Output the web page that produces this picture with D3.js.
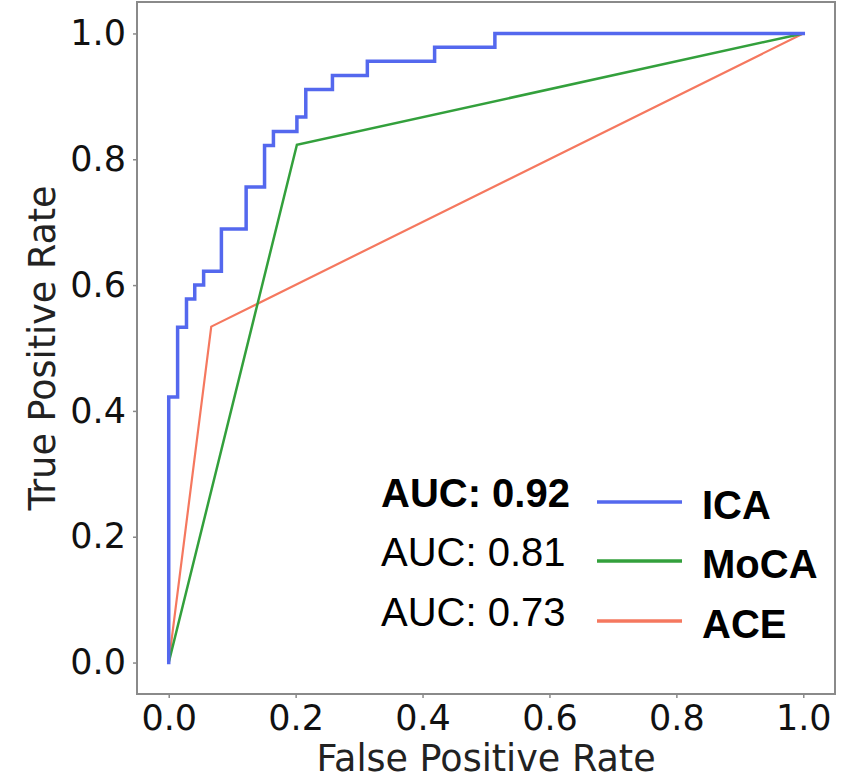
<!DOCTYPE html>
<html>
<head>
<meta charset="utf-8">
<script src="https://cdn.jsdelivr.net/npm/d3@7"></script>
<style>
  html, body { margin: 0; padding: 0; background: #fff; }
  svg { display: block; }
</style>
</head>
<body>
<svg id="chart" width="846" height="779"></svg>
<script>
// ROC curve points (false positive rate, true positive rate) per classifier
const icaFpr = [0, 0, 0.014, 0.014, 0.028, 0.028, 0.041, 0.041, 0.055, 0.055, 0.083, 0.083,
                0.122, 0.122, 0.151, 0.151, 0.165, 0.165, 0.202, 0.202, 0.216, 0.216,
                0.258, 0.258, 0.313, 0.313, 0.419, 0.419, 0.514, 0.514, 1];
const icaTpr = [0, 0.422, 0.422, 0.533, 0.533, 0.578, 0.578, 0.6, 0.6, 0.622, 0.622, 0.689,
                0.689, 0.756, 0.756, 0.822, 0.822, 0.844, 0.844, 0.867, 0.867, 0.911,
                0.911, 0.933, 0.933, 0.956, 0.956, 0.978, 0.978, 1, 1];
const mocaFpr = [0, 0.202, 1];
const mocaTpr = [0, 0.823, 1];
const aceFpr = [0, 0.067, 1];
const aceTpr = [0, 0.534, 1];

// Legend entries
const seriesNames = ["ICA", "MoCA", "ACE"];
const aucValues = [0.92, 0.81, 0.73];
const seriesColors = ["#5468ee", "#33a03c", "#f5785f"];
const seriesWidths = [3.5, 2.5, 2.2];

// Axis ticks
const tickValues = [0.0, 0.2, 0.4, 0.6, 0.8, 1.0];

const svg = d3.select("#chart");
const plotLeft = 137, plotRight = 835, plotTop = 2, plotBottom = 694;

const x = d3.scaleLinear().domain([-0.05, 1.05]).range([plotLeft, plotRight]);
const y = d3.scaleLinear().domain([-0.05, 1.05]).range([plotBottom, plotTop]);

const frameColor = "#8a8a8a";
const tickFont = "'DejaVu Sans', sans-serif";

// Curves
const curves = [
  { fpr: icaFpr, tpr: icaTpr },
  { fpr: mocaFpr, tpr: mocaTpr },
  { fpr: aceFpr, tpr: aceTpr }
];
const line = d3.line().x(d => x(d[0])).y(d => y(d[1]));

// draw ACE first, then MoCA, then ICA on top of the two
[2, 1, 0].forEach(i => {
  const pts = curves[i].fpr.map((f, k) => [f, curves[i].tpr[k]]);
  svg.append("path")
    .datum(pts)
    .attr("d", line)
    .attr("fill", "none")
    .attr("stroke", seriesColors[i])
    .attr("stroke-width", seriesWidths[i])
    .attr("stroke-linejoin", "miter")
    .attr("stroke-linecap", "square");
});

// Plot frame
svg.append("rect")
  .attr("x", plotLeft).attr("y", plotTop)
  .attr("width", plotRight - plotLeft).attr("height", plotBottom - plotTop)
  .attr("fill", "none")
  .attr("stroke", frameColor)
  .attr("stroke-width", 2);

// Axes
const xAxis = d3.axisBottom(x).tickValues(tickValues).tickFormat(d3.format(".1f"))
  .tickSize(4).tickPadding(7);
const yAxis = d3.axisLeft(y).tickValues(tickValues).tickFormat(d3.format(".1f"))
  .tickSize(4).tickPadding(7);

const gx = svg.append("g").attr("transform", `translate(0,${plotBottom})`).call(xAxis);
const gy = svg.append("g").attr("transform", `translate(${plotLeft},0)`).call(yAxis);

[gx, gy].forEach(g => {
  g.select(".domain").remove();
  g.selectAll(".tick line").attr("stroke", frameColor).attr("stroke-width", 1.5);
  g.selectAll(".tick text")
    .attr("fill", "#111")
    .style("font-family", tickFont)
    .style("font-size", "35px");
});

// Axis titles
svg.append("text")
  .attr("x", (plotLeft + plotRight) / 2)
  .attr("y", 771)
  .attr("text-anchor", "middle")
  .attr("fill", "#222")
  .style("font-family", tickFont)
  .style("font-size", "36.5px")
  .text("False Positive Rate");

svg.append("text")
  .attr("transform", `translate(55,${(plotTop + plotBottom) / 2}) rotate(-90)`)
  .attr("text-anchor", "middle")
  .attr("fill", "#222")
  .style("font-family", tickFont)
  .style("font-size", "36.5px")
  .text("True Positive Rate");

// Legend
const legendFont = "'Liberation Sans', Arial, sans-serif";
const legendRowBase = [507, 566, 626];
const legend = svg.append("g");
seriesNames.forEach((name, i) => {
  const base = legendRowBase[i];
  legend.append("text")
    .attr("x", 381).attr("y", base)
    .attr("fill", "#000")
    .style("font-family", legendFont)
    .style("font-size", "40px")
    .style("font-weight", i === 0 ? "bold" : "normal")
    .text("AUC: " + aucValues[i].toFixed(2));
  legend.append("line")
    .attr("x1", 597).attr("x2", 682)
    .attr("y1", base - 5).attr("y2", base - 5)
    .attr("stroke", seriesColors[i])
    .attr("stroke-width", 3.5);
  legend.append("text")
    .attr("x", 702).attr("y", base + 12)
    .attr("fill", "#000")
    .style("font-family", legendFont)
    .style("font-size", "40px")
    .style("font-weight", "bold")
    .text(name);
});
</script>
</body>
</html>
